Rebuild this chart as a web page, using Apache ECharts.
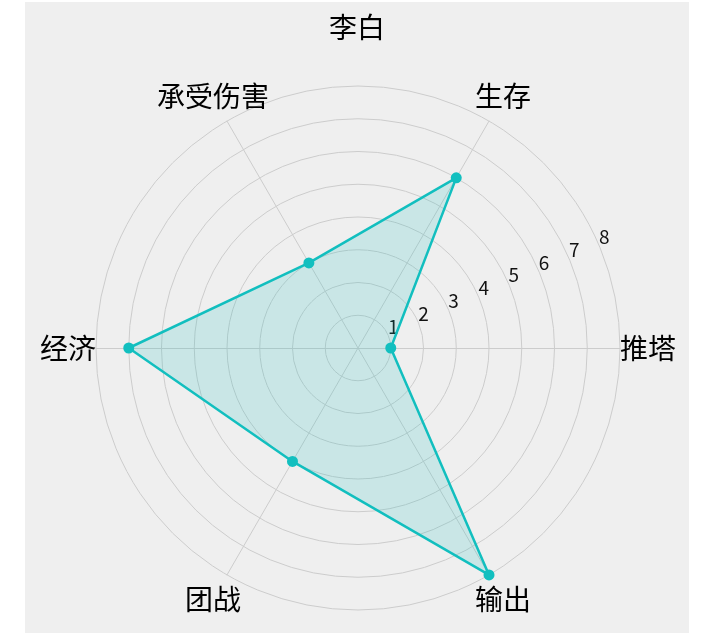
<!DOCTYPE html>
<html>
<head>
<meta charset="utf-8">
<script src="https://cdn.jsdelivr.net/npm/echarts@6/dist/echarts.min.js"></script>
<style>
html,body{margin:0;padding:0;background:#fff;}
#c{position:absolute;left:25px;top:2px;width:664px;height:631px;background:#efefef;}
</style>
</head>
<body>
<div id="c"></div>
<script>
var titleText = '李白';
var indicatorNames = ['推塔', '生存', '承受伤害', '经济', '团战', '输出'];
var indicatorMax = [8, 8, 8, 8, 8, 8];
var heroValues = [1, 6, 3, 7, 4, 8];
var radiusTicks = [0, 1, 2, 3, 4, 5, 6, 7, 8];

var chart = echarts.init(document.getElementById('c'));
var font = '"Noto Sans CJK SC", "Noto Sans", sans-serif';
var center = [333, 346];
var radius = 262;
chart.setOption({
  backgroundColor: 'transparent',
  textStyle: { fontFamily: font },
  title: {
    text: titleText, left: 'center', top: 6,
    textStyle: { color: '#000', fontSize: 28, fontWeight: 'normal', fontFamily: font }
  },
  polar: { center: center, radius: [13, 275] },
  angleAxis: { type: 'value', min: 0, max: 360, startAngle: 23, show: false },
  radiusAxis: {
    type: 'value', min: radiusTicks[0], max: radiusTicks[radiusTicks.length - 1], interval: 1,
    axisLine: { show: false }, axisTick: { show: false }, splitLine: { show: false },
    axisLabel: {
      color: '#111', fontSize: 19, fontFamily: font, margin: 4,
      formatter: function (v) { return v === 0 ? '' : String(v); }
    }
  },
  radar: {
    center: center, radius: radius, startAngle: 0, shape: 'circle', splitNumber: 8,
    indicator: indicatorNames.map(function (n, i) { return { name: n, max: indicatorMax[i], min: 0 }; }),
    axisName: { color: '#000', fontSize: 28, fontFamily: font, align: 'center', verticalAlign: 'middle' },
    nameGap: 28,
    axisLine: { lineStyle: { color: '#cccccc', width: 1 } },
    splitLine: { lineStyle: { color: '#cccccc', width: 1 } },
    splitArea: { show: false }
  },
  series: [{
    type: 'radar',
    symbol: 'circle', symbolSize: 11,
    itemStyle: { color: '#12bfbf' },
    lineStyle: { color: '#12bfbf', width: 2.5 },
    areaStyle: { color: 'rgba(18,191,191,0.24)' },
    data: [{ value: heroValues, name: titleText }]
  }]
});
</script>
</body>
</html>
